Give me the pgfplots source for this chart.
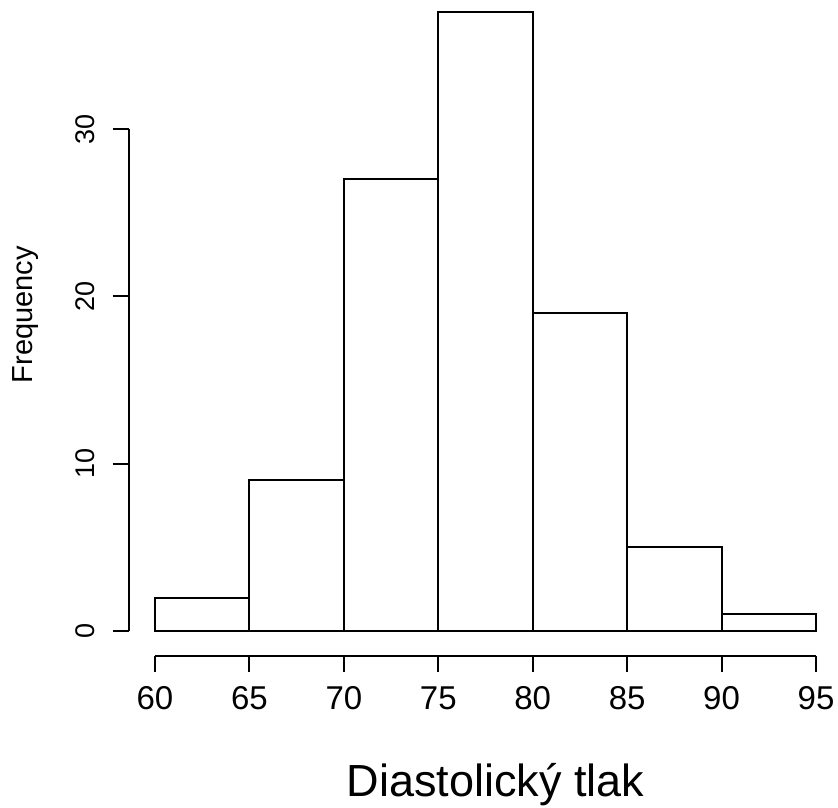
\documentclass[border=0pt]{standalone}
\usepackage{pgfplots}
\pgfplotsset{compat=1.18}
\usepackage{fontspec}
\setmainfont{Liberation Sans}
\begin{document}
\begin{tikzpicture}
\begin{axis}[
  scale only axis,
  width=356.95pt, height=334.33pt,
  xmin=58.6, xmax=96.4, ymin=-1.48, ymax=38.48,
  axis lines=left,
  axis line style={draw=none},
  clip=false,
  xtick={60,65,70,75,80,85,90,95},
  ytick={0,10,20,30},
  tick align=outside,
  major tick length=8pt,
  tick style={black, line width=1pt},
  /pgf/number format/assume math mode=true,
  xticklabel style={font=\fontsize{16.5}{18}\selectfont, anchor=base, inner sep=0pt, yshift=-19.1pt},
  yticklabel style={font=\fontsize{13.5}{15}\selectfont, inner sep=0pt, xshift=-8.8pt, rotate=90, anchor=base},
]
\addplot[ybar interval, draw=black, fill=white, line width=1pt] coordinates {
  (60,2) (65,9) (70,27) (75,37) (80,19) (85,5) (90,1) (95,1)
};
\draw[line width=1pt] (axis cs:60,-1.48) -- (axis cs:95,-1.48);
\draw[line width=1pt] (axis cs:58.6,0) -- (axis cs:58.6,30);
\node[rotate=90, anchor=base, inner sep=0pt, font=\fontsize{14.5}{16}\selectfont] at (axis cs:53.54,18.9) {Frequency};
\node[anchor=base, inner sep=0pt, font=\fontsize{22.5}{26}\selectfont] at (axis cs:78.03,-9.92) {Diastolický tlak};
\coordinate (bl) at (axis cs:51.793,-10.578);
\coordinate (tr) at (axis cs:96.165,37.71);
\end{axis}
\pgfresetboundingbox
\path[use as bounding box] (bl) rectangle (tr);
\end{tikzpicture}
\end{document}
